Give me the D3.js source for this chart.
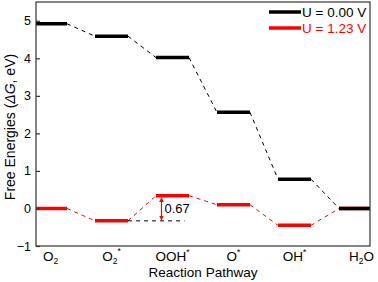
<!DOCTYPE html>
<html>
<head>
<meta charset="utf-8">
<script src="https://cdn.jsdelivr.net/npm/d3@7"></script>
<style>
  body { margin: 0; background: #fff; }
  svg { display: block; font-family: "Liberation Sans", Arial, sans-serif; }
</style>
</head>
<body>
<svg id="chart" width="378" height="282"></svg>
<script>
// reaction steps (label parts: base, sub, sup)
const steps = [
  { base: "O", sub: "2", sup: "" },
  { base: "O", sub: "2", sup: "*" },
  { base: "OOH", sub: "", sup: "*" },
  { base: "O", sub: "", sup: "*" },
  { base: "OH", sub: "", sup: "*" },
  { base: "H", sub: "2", sup: "", tail: "O" }
];
const energyU0 = [4.92, 4.59, 4.02, 2.56, 0.78, 0];
const energyU123 = [0, -0.33, 0.34, 0.10, -0.45, 0];
const yTicks = [-1, 0, 1, 2, 3, 4, 5];
const seriesNames = ["U = 0.00 V", "U = 1.23 V"];
const seriesColors = ["#000000", "#ff0000"];

const svg = d3.select("#chart");
const pLeft = 36, pRight = 370, pTop = 2, pBottom = 246;

const x = d3.scaleLinear().domain([0, 5]).range([50.5, 355.5]);
const y = d3.scaleLinear().domain([-1, 5.5]).range([pBottom, pTop]);
const hw = 16.5; // half width of a level

svg.append("clipPath").attr("id", "plotClip")
  .append("rect").attr("x", pLeft).attr("y", pTop)
  .attr("width", pRight - pLeft).attr("height", pBottom - pTop);

const plot = svg.append("g").attr("clip-path", "url(#plotClip)");

function drawSeries(vals, color, lw) {
  // dashed connectors
  for (let i = 0; i < vals.length - 1; i++) {
    plot.append("line")
      .attr("x1", x(i) + hw).attr("y1", y(vals[i]))
      .attr("x2", x(i + 1) - hw).attr("y2", y(vals[i + 1]))
      .attr("stroke", color).attr("stroke-width", 1)
      .attr("stroke-dasharray", "4,4");
  }
  plot.selectAll(null)
    .data(vals)
    .enter()
    .append("line")
    .attr("x1", (d, i) => x(i) - hw)
    .attr("x2", (d, i) => x(i) + hw)
    .attr("y1", d => y(d))
    .attr("y2", d => y(d))
    .attr("stroke", color)
    .attr("stroke-width", lw);
}

drawSeries(energyU123, seriesColors[1], 3.5);
drawSeries(energyU0, seriesColors[0], 3.5);

// 0.67 annotation
const gap = energyU123[2] - energyU123[1];
plot.append("line")
  .attr("x1", x(1) + hw).attr("x2", x(2) + 12)
  .attr("y1", y(energyU123[1])).attr("y2", y(energyU123[1]))
  .attr("stroke", "#000").attr("stroke-width", 1)
  .attr("stroke-dasharray", "4,4");

const defs = svg.append("defs");
defs.append("marker").attr("id", "arrowRed")
  .attr("viewBox", "0 0 10 10").attr("refX", 9).attr("refY", 5)
  .attr("markerWidth", 4).attr("markerHeight", 4)
  .attr("orient", "auto-start-reverse")
  .append("path").attr("d", "M0,0 L10,5 L0,10 z").attr("fill", "#ff0000");

const ax = x(2) - 11;
plot.append("line")
  .attr("x1", ax).attr("x2", ax)
  .attr("y1", y(energyU123[2]) + 2).attr("y2", y(energyU123[1]) - 1)
  .attr("stroke", "#ff0000").attr("stroke-width", 1.2)
  .attr("marker-start", "url(#arrowRed)")
  .attr("marker-end", "url(#arrowRed)");

svg.append("text")
  .attr("x", ax + 3)
  .attr("y", y((energyU123[2] + energyU123[1]) / 2) + 5)
  .attr("font-size", 13)
  .text(gap.toFixed(2));

// frame
svg.append("rect")
  .attr("x", pLeft).attr("y", pTop)
  .attr("width", pRight - pLeft).attr("height", pBottom - pTop)
  .attr("fill", "none").attr("stroke", "#333").attr("stroke-width", 1.2);

// y axis
const yAxis = svg.append("g")
  .attr("transform", `translate(${pLeft},0)`)
  .call(d3.axisLeft(y).tickValues(yTicks).tickFormat(d3.format("d"))
    .tickSizeInner(-4).tickSizeOuter(0).tickPadding(5));
yAxis.select(".domain").remove();
yAxis.selectAll("line").attr("stroke", "#333").attr("stroke-width", 1.2);
yAxis.selectAll("text").attr("font-size", 12.5).attr("fill", "#000")
  .attr("font-family", "Liberation Sans, Arial, sans-serif");

// x category labels
const xl = svg.append("g");
steps.forEach((s, i) => {
  const t = xl.append("text")
    .attr("x", x(i) + (i === 5 ? 6 : 0)).attr("y", 261)
    .attr("text-anchor", "middle")
    .attr("font-size", 13.5);
  t.append("tspan").text(s.base);
  if (s.sub) t.append("tspan").attr("font-size", 8.5).attr("dy", 3).text(s.sub);
  if (s.sup) t.append("tspan").attr("font-size", 8.5).attr("dy", s.sub ? -10 : -6).text(s.sup);
  if (s.tail) t.append("tspan").attr("dy", -3).text(s.tail);
});

svg.append("text")
  .attr("x", (pLeft + pRight) / 2).attr("y", 277)
  .attr("text-anchor", "middle").attr("font-size", 13.5)
  .text("Reaction Pathway");

// y label
const yl = svg.append("text")
  .attr("transform", `translate(15,127) rotate(-90)`)
  .attr("text-anchor", "middle").attr("font-size", 14);
yl.append("tspan").text("Free Energies (");
yl.append("tspan").attr("font-style", "italic").text("\u0394G");
yl.append("tspan").text(", eV)");

// legend
const leg = svg.append("g");
seriesNames.forEach((name, i) => {
  const ly = 12 + i * 16;
  leg.append("line")
    .attr("x1", 269).attr("x2", 301).attr("y1", ly).attr("y2", ly)
    .attr("stroke", seriesColors[i]).attr("stroke-width", 3.5);
  leg.append("text")
    .attr("x", 302).attr("y", ly + 5)
    .attr("font-size", 13.5).attr("fill", seriesColors[i])
    .text(name);
});
</script>
</body>
</html>
